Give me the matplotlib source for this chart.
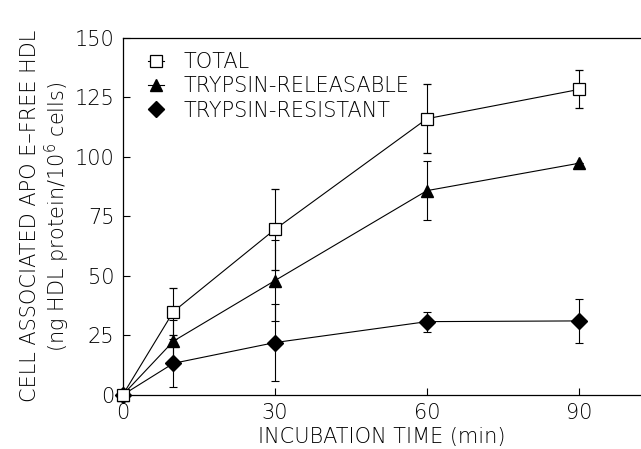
import matplotlib
matplotlib.use("Agg")
import matplotlib.pyplot as plt

time = [0, 10, 30, 60, 90]
total = [0, 35, 69.5, 116, 128.3]
total_err = [0, 10, 17, 14.5, 8]
releasable = [0, 22.6, 48, 85.8, 97.3]
releasable_err = [0, 9, 17, 12.3, 0]
resistant = [0, 13.3, 22, 30.8, 31.1]
resistant_err = [0, 10, 16, 4.2, 9.3]

xticks = [0, 30, 60, 90]
yticks = [0, 25, 50, 75, 100, 125, 150]

plt.rcParams['font.family'] = ['DejaVu Sans']
plt.rcParams['font.weight'] = 'light'
plt.rcParams['axes.labelweight'] = 'light'

fig = plt.figure(figsize=(6.41, 4.49), dpi=100)
ax = fig.add_axes([0.1914, 0.1203, 1 - 0.1914, 0.916 - 0.1203])

lw = 0.8
common = dict(color='black', linewidth=lw, elinewidth=lw, capsize=3, capthick=lw,
              clip_on=False)
ax.errorbar(time, resistant, yerr=resistant_err, marker='D', markersize=8,
            markerfacecolor='black', markeredgecolor='black', label='TRYPSIN-RESISTANT',
            zorder=3, **common)
ax.errorbar(time, releasable, yerr=releasable_err, marker='^', markersize=9,
            markerfacecolor='black', markeredgecolor='black', label='TRYPSIN-RELEASABLE',
            zorder=3, **common)
ax.errorbar(time, total, yerr=total_err, marker='s', markersize=8,
            markerfacecolor='white', markeredgecolor='black', markeredgewidth=0.9,
            label='TOTAL', zorder=4, **common)

ax.set_xlim(0, 102.2)
ax.set_ylim(0, 150)
ax.set_xticks(xticks)
ax.set_yticks(yticks)
ax.tick_params(direction='in', length=5, width=0.8, labelsize=15, pad=6)
ax.spines['right'].set_visible(False)
for s in ['left', 'top', 'bottom']:
    ax.spines[s].set_linewidth(0.9)

ax.set_xlabel('INCUBATION TIME (min)', fontsize=15, labelpad=3)
ax.set_ylabel('CELL ASSOCIATED APO E\u2013FREE HDL\n(ng HDL protein/10$^{6}$ cells)',
              fontsize=15, labelpad=2, linespacing=1.1)

handles, labels = ax.get_legend_handles_labels()
order = [2, 1, 0]
leg = ax.legend([handles[i][0] for i in order], [labels[i] for i in order],
                loc='upper left', frameon=False, fontsize=15, handlelength=0.8,
                handletextpad=0.9, borderaxespad=0.3, labelspacing=0.2,
                bbox_to_anchor=(0.02, 1.0))

fig.savefig('out.png', dpi=100)
